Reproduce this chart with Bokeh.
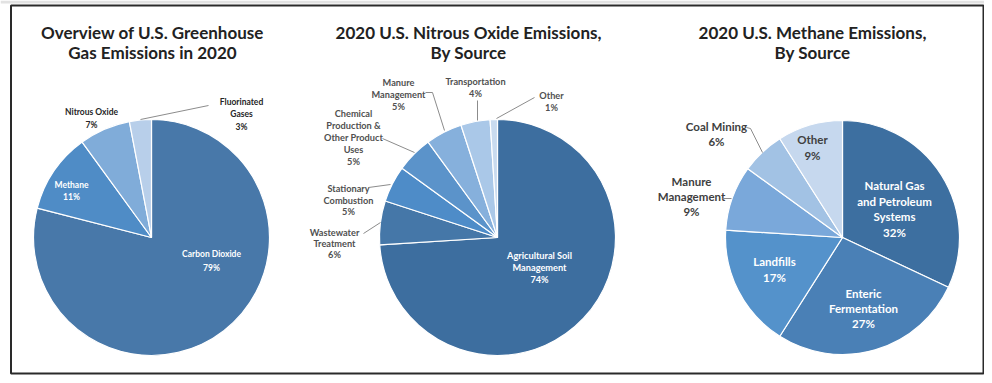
import numpy as np
from bokeh.plotting import figure
from bokeh.models import Range1d, ColumnDataSource
from bokeh.core.properties import value
from bokeh.embed import file_html
from bokeh.resources import INLINE

# ---------------- data ----------------
ghg_labels = ["Carbon Dioxide", "Methane", "Nitrous Oxide", "Fluorinated\nGases"]
ghg_values = [79, 11, 7, 3]
ghg_colors = ["#4878a9", "#4f8cc6", "#80acd9", "#b8cfea"]

n2o_labels = ["Agricultural Soil\nManagement", "Wastewater\nTreatment", "Stationary\nCombustion",
              "Chemical\nProduction &\nOther Product\nUses", "Manure\nManagement", "Transportation", "Other"]
n2o_values = [74, 6, 5, 5, 5, 4, 1]
n2o_colors = ["#3d6e9f", "#4577a8", "#4e8cc8", "#5b93ca", "#86b0dc", "#aac8e8", "#c9dbef"]

ch4_labels = ["Natural Gas\nand Petroleum\nSystems", "Enteric\nFermentation", "Landfills",
              "Manure\nManagement", "Coal Mining", "Other"]
ch4_values = [32, 27, 17, 9, 6, 9]
ch4_colors = ["#3d6fa0", "#4a80b6", "#5492cb", "#7aa8da", "#a2c2e4", "#c6d8ee"]

titles = [["Overview of U.S. Greenhouse", "Gas Emissions in 2020"],
          ["2020 U.S. Nitrous Oxide Emissions,", "By Source"],
          ["2020 U.S. Methane Emissions,", "By Source"]]

# ---------------- layout (image pixel coordinates) ----------------
W, H = 984, 375
def Y(img_y):
    return 383 - img_y

p = figure(width=W, height=H, output_backend="svg", toolbar_location=None,
           x_range=Range1d(0, W), y_range=Range1d(383 - H, 383),
           min_border=0, outline_line_color=None, background_fill_color="white")
p.axis.visible = False
p.grid.visible = False

# light strip above the frame and the frame itself
p.quad(left=[0], right=[W], bottom=[Y(3)], top=[Y(0)], fill_color="#e2e2e2", line_color=None)
p.quad(left=[10.5], right=[983], bottom=[Y(373)], top=[Y(5)], fill_color=None,
       line_color="#2a2a2a", line_width=2)

pies = [
    dict(vals=ghg_values, labels=ghg_labels, colors=ghg_colors, cx=151, cy=237, r=118,
         pos=[(211, 253, 14, "white"), (71, 184, 12, "white"), (91, 111, 13, "#262626"), (241, 101, 12.5, "#262626")],
         size="8.5px", title_x=152),
    dict(vals=n2o_values, labels=n2o_labels, colors=n2o_colors, cx=497, cy=237, r=118,
         pos=[(539, 255, 12, "white"), (334, 232, 11, "#505050"), (348, 188, 11.5, "#505050"),
              (353, 113, 12, "#505050"), (398, 82, 12, "#505050"), (475, 81, 12, "#505050"),
              (551, 95, 12, "#505050")],
         size="9.2px", title_x=468),
    dict(vals=ch4_values, labels=ch4_labels, colors=ch4_colors, cx=842, cy=237, r=117,
         pos=[(894, 185, 15.7, "white"), (863, 293, 15, "white"), (774, 261, 16, "white"),
              (691, 181, 15, "#404040"), (716, 126, 15, "#404040"), (812, 139, 16, "#404040")],
         size="11.5px", title_x=812),
]

for pie in pies:
    v = np.array(pie["vals"], dtype=float)
    frac = v / v.sum()
    cum_end = np.cumsum(frac)
    cum_start = cum_end - frac
    src = ColumnDataSource(dict(
        x=[pie["cx"]] * len(v), y=[Y(pie["cy"])] * len(v),
        start=list(np.pi / 2 - 2 * np.pi * cum_end),
        end=list(np.pi / 2 - 2 * np.pi * cum_start),
        color=pie["colors"]))
    p.wedge(x="x", y="y", radius=pie["r"], radius_units="screen", start_angle="start",
            end_angle="end", fill_color="color", line_color="white", line_width=1.2, source=src)

    tx, ty, tc, cols = [], [], [], []
    for lab, val, (lx, ly, sp, col) in zip(pie["labels"], pie["vals"], pie["pos"]):
        lines = lab.split("\n") + [f"{val}%"]
        for i, ln in enumerate(lines):
            tx.append(lx); ty.append(Y(ly + i * sp)); tc.append(ln); cols.append(col)
    p.text(x=tx, y=ty, text=tc, text_color=cols, text_font=value("Lato"),
           text_font_style="bold", text_font_size=pie["size"], text_align="center",
           text_baseline="middle")

# titles
for pie, tl in zip(pies, titles):
    p.text(x=[pie["title_x"]] * 2, y=[Y(32), Y(52)], text=tl, text_color="#222222",
           text_font=value("Lato"), text_font_style="bold", text_font_size="17px",
           text_align="center", text_baseline="middle")

# leader lines
leaders_x = [[140, 208],
             [363, 380], [368, 390], [382, 414], [425, 432, 444], [477, 477], [534, 496],
             [722, 731], [746, 750, 762]]
leaders_y = [[119, 105],
             [233, 222], [187, 184], [138, 152], [92, 92, 130], [100, 120], [97, 118],
             [198, 198], [127, 128, 152]]
p.multi_line(xs=leaders_x, ys=[[Y(v) for v in ys] for ys in leaders_y],
             line_color="#8c8c8c", line_width=1)

open("out.html", "w").write(file_html(p, INLINE))
